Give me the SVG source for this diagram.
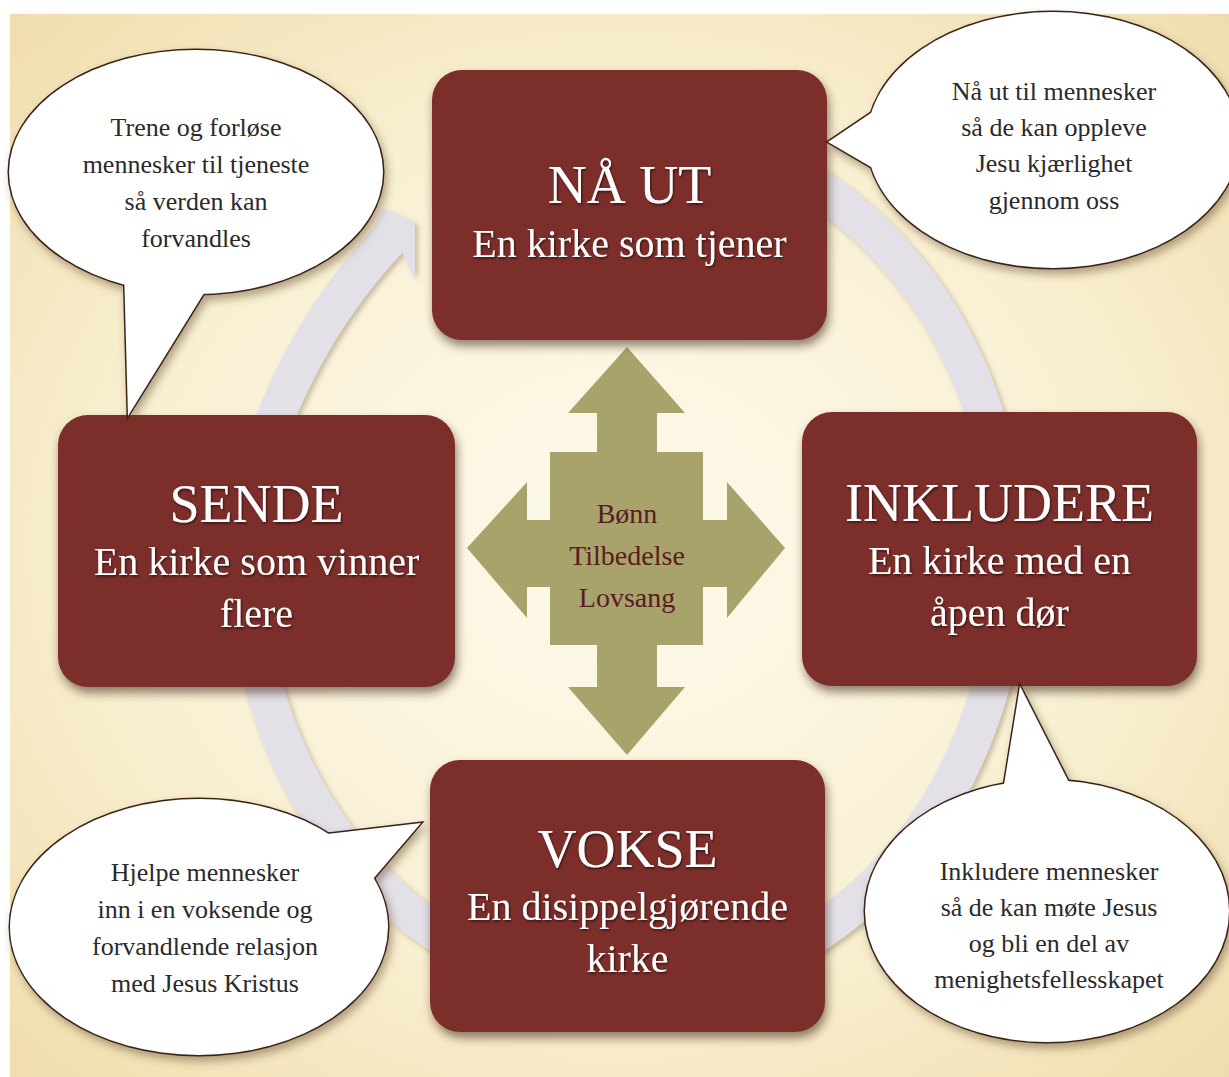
<svg xmlns="http://www.w3.org/2000/svg" width="1229" height="1077" viewBox="0 0 1229 1077">
<defs>
  <radialGradient id="bg" cx="0.5" cy="0.5" r="0.72">
    <stop offset="0" stop-color="#fdfaec"/>
    <stop offset="0.55" stop-color="#f9f0d3"/>
    <stop offset="1" stop-color="#efdcab"/>
  </radialGradient>
  <filter id="boxShadow" x="-10%" y="-10%" width="125%" height="135%">
    <feDropShadow dx="2" dy="6" stdDeviation="5" flood-color="#3a2010" flood-opacity="0.55"/>
  </filter>
  <filter id="bubShadow" x="-10%" y="-10%" width="125%" height="135%">
    <feDropShadow dx="3" dy="5" stdDeviation="4" flood-color="#5a4020" flood-opacity="0.45"/>
  </filter>
  <filter id="ringShadow" x="-10%" y="-10%" width="125%" height="125%">
    <feDropShadow dx="3" dy="3" stdDeviation="2.5" flood-color="#6a5a40" flood-opacity="0.35"/>
  </filter>
  <filter id="txtShadow" x="-5%" y="-20%" width="110%" height="150%">
    <feDropShadow dx="1" dy="1.5" stdDeviation="1" flood-color="#000" flood-opacity="0.6"/>
  </filter>
</defs>
<style>
  .box{fill:#7b2e2a}
  .title{font-family:"Liberation Serif",serif;font-size:54px;fill:#ffffff;text-anchor:middle}
  .sub{font-family:"Liberation Serif",serif;font-size:40px;fill:#ffffff;text-anchor:middle}
  .bub{fill:#ffffff;stroke:#3b2418;stroke-width:3}
  .bubf{fill:#ffffff}
  .bt{font-family:"Liberation Serif",serif;font-size:26px;fill:#2a2a2a;text-anchor:middle}
  .ct{font-family:"Liberation Serif",serif;font-size:28px;fill:#5a1b20;text-anchor:middle}
  .ring{fill:none;stroke:#e3e0e8;stroke-width:38}
</style>
<rect width="1229" height="1077" fill="#ffffff"/>
<rect x="10" y="14" width="1219" height="1063" fill="url(#bg)"/>

<g id="connectors" filter="url(#ringShadow)">
  <path class="ring" d="M 627 130 A 380 430 0 0 1 1007 560 A 380 430 0 0 1 627 990 A 380 430 0 0 1 247 560 C 247 420 335 296 390 238"/>
  <polygon fill="#e3e0e8" points="375,226 383,208 415,222 415,278 403,254"/>
</g>

<g id="center">
  <polygon fill="#a7a36b" points="627,347 685,413 657,413 657,452 703,452 703,520 727,520 727,482 785,548 727,618 727,587 703,587 703,645 657,645 657,687 685,687 627,755 568,687 597,687 597,645 550,645 550,587 527,587 527,618 467,548 527,482 527,520 550,520 550,452 597,452 597,413 568,413"/>
  <text class="ct" x="627" y="523">Bønn</text>
  <text class="ct" x="627" y="565">Tilbedelse</text>
  <text class="ct" x="627" y="607">Lovsang</text>
</g>

<g id="node-naa-ut">
  <rect class="box" x="432" y="70" width="395" height="270" rx="30" filter="url(#boxShadow)"/>
  <g filter="url(#txtShadow)">
    <text class="title" x="629.5" y="203">NÅ UT</text>
    <text class="sub" x="629.5" y="257">En kirke som tjener</text>
  </g>
</g>

<g id="node-sende">
  <rect class="box" x="58" y="415" width="397" height="272" rx="30" filter="url(#boxShadow)"/>
  <g filter="url(#txtShadow)">
    <text class="title" x="256.5" y="522">SENDE</text>
    <text class="sub" x="256.5" y="575">En kirke som vinner</text>
    <text class="sub" x="256.5" y="627">flere</text>
  </g>
</g>

<g id="node-inkludere">
  <rect class="box" x="802" y="412" width="395" height="274" rx="30" filter="url(#boxShadow)"/>
  <g filter="url(#txtShadow)">
    <text class="title" x="999.5" y="521">INKLUDERE</text>
    <text class="sub" x="999.5" y="574">En kirke med en</text>
    <text class="sub" x="999.5" y="626">åpen dør</text>
  </g>
</g>

<g id="node-vokse">
  <rect class="box" x="430" y="760" width="395" height="272" rx="30" filter="url(#boxShadow)"/>
  <g filter="url(#txtShadow)">
    <text class="title" x="627.5" y="867">VOKSE</text>
    <text class="sub" x="627.5" y="920">En disippelgjørende</text>
    <text class="sub" x="627.5" y="972">kirke</text>
  </g>
</g>

<g id="bubble-sende">
  <g filter="url(#bubShadow)">
    <ellipse class="bub" cx="196" cy="172" rx="187" ry="122"/>
    <polygon class="bub" points="124,270 128,416 209,285"/>
    <ellipse class="bubf" cx="196" cy="172" rx="187" ry="122"/>
    <polygon class="bubf" points="124,270 128,416 209,285"/>
  </g>
  <text class="bt" x="196" y="136">Trene og forløse</text>
  <text class="bt" x="196" y="173">mennesker til tjeneste</text>
  <text class="bt" x="196" y="210">så verden kan</text>
  <text class="bt" x="196" y="247">forvandles</text>
</g>

<g id="bubble-naa-ut">
  <g filter="url(#bubShadow)">
    <ellipse class="bub" cx="1053" cy="140" rx="186" ry="128"/>
    <polygon class="bub" points="905,90 828,142 890,178"/>
    <ellipse class="bubf" cx="1053" cy="140" rx="186" ry="128"/>
    <polygon class="bubf" points="905,90 828,142 890,178"/>
  </g>
  <text class="bt" x="1054" y="100">Nå ut til mennesker</text>
  <text class="bt" x="1054" y="136">så de kan oppleve</text>
  <text class="bt" x="1054" y="172">Jesu kjærlighet</text>
  <text class="bt" x="1054" y="209">gjennom oss</text>
</g>

<g id="bubble-vokse">
  <g filter="url(#bubShadow)">
    <ellipse class="bub" cx="199" cy="927" rx="189" ry="128"/>
    <polygon class="bub" points="310,836 421,823 355,900"/>
    <ellipse class="bubf" cx="199" cy="927" rx="189" ry="128"/>
    <polygon class="bubf" points="310,836 421,823 355,900"/>
  </g>
  <text class="bt" x="205" y="881">Hjelpe mennesker</text>
  <text class="bt" x="205" y="918">inn i en voksende og</text>
  <text class="bt" x="205" y="955">forvandlende relasjon</text>
  <text class="bt" x="205" y="992">med Jesus Kristus</text>
</g>

<g id="bubble-inkludere">
  <g filter="url(#bubShadow)">
    <ellipse class="bub" cx="1047" cy="911" rx="182" ry="131"/>
    <polygon class="bub" points="995,840 1020,686 1083,810"/>
    <ellipse class="bubf" cx="1047" cy="911" rx="182" ry="131"/>
    <polygon class="bubf" points="995,840 1020,686 1083,810"/>
  </g>
  <text class="bt" x="1049" y="880">Inkludere mennesker</text>
  <text class="bt" x="1049" y="916">så de kan møte Jesus</text>
  <text class="bt" x="1049" y="952">og bli en del av</text>
  <text class="bt" x="1049" y="988">menighetsfellesskapet</text>
</g>
</svg>
